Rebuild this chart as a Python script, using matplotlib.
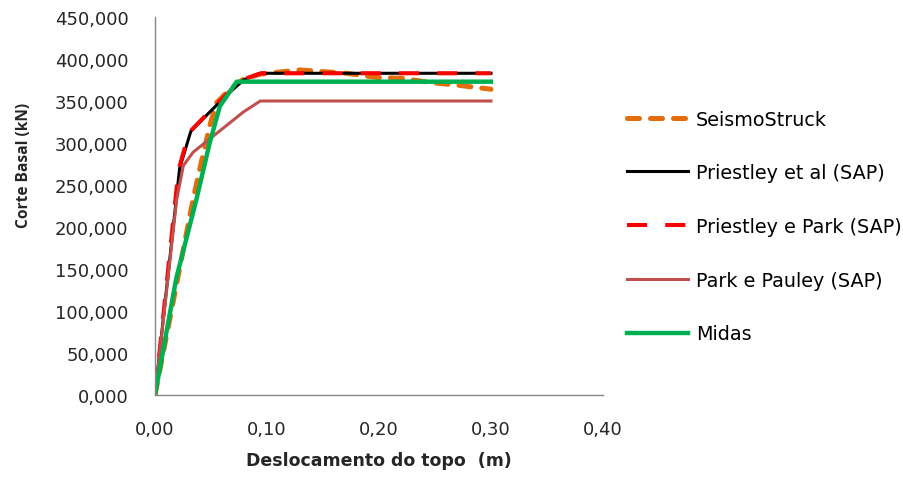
import matplotlib
matplotlib.use("Agg")
import matplotlib.pyplot as plt
from matplotlib.ticker import FuncFormatter, MultipleLocator

plt.rcParams['font.family'] = ['DejaVu Sans']

# Curvas de capacidade (pushover): deslocamento do topo (m) x corte basal
seismo_x = [0.0, 0.014, 0.034, 0.042, 0.049, 0.055, 0.067, 0.079, 0.094, 0.129,
            0.150, 0.171, 0.198, 0.221, 0.246, 0.269, 0.300]
seismo_y = [0, 96, 233, 281, 321, 348, 364, 376, 382, 387,
            385, 383, 378, 377, 372, 369, 364]

priestley_x = [0.0, 0.022, 0.032, 0.049, 0.064, 0.079, 0.094, 0.300]
priestley_y = [0, 270, 314, 337, 357, 375, 383, 383]

priestley_park_x = [0.0, 0.021, 0.028, 0.033, 0.049, 0.064, 0.079, 0.095, 0.300]
priestley_park_y = [0, 268, 301, 316, 338, 358, 376, 383, 383]

park_x = [0.0, 0.0194, 0.0253, 0.034, 0.049, 0.064, 0.079, 0.094, 0.300]
park_y = [0, 233, 273, 289, 305, 321, 337, 350, 350]

midas_x = [0.0, 0.019, 0.037, 0.049, 0.058, 0.073, 0.300]
midas_y = [0, 139, 233, 301, 344, 373, 373]

fig = plt.figure(figsize=(9.04, 4.89), dpi=100)
ax = fig.add_axes([155 / 904, 1 - 396 / 489, 448 / 904, 378 / 489])

ax.plot(seismo_x, seismo_y, color="#E46C0A", linewidth=3.6, dashes=(2.4, 2.2),
        dash_capstyle="round", label="SeismoStruck")
ax.plot(priestley_x, priestley_y, color="#000000", linewidth=2.2,
        label="Priestley et al (SAP)")
ax.plot(priestley_park_x, priestley_park_y, color="#FF0000", linewidth=2.9,
        dashes=(5, 4.5), label="Priestley e Park (SAP)")
ax.plot(park_x, park_y, color="#C0504D", linewidth=2.2,
        label="Park e Pauley (SAP)")
ax.plot(midas_x, midas_y, color="#00B050", linewidth=3.2, label="Midas")

ax.set_xlim(0, 0.4)
ax.set_ylim(0, 450)
ax.xaxis.set_major_locator(MultipleLocator(0.1))
ax.yaxis.set_major_locator(MultipleLocator(50))
ax.xaxis.set_major_formatter(FuncFormatter(lambda v, p: f"{v:.2f}".replace(".", ",")))
ax.yaxis.set_major_formatter(FuncFormatter(lambda v, p: f"{v:.3f}".replace(".", ",")))

for s in ["top", "right"]:
    ax.spines[s].set_visible(False)
for s in ["left", "bottom"]:
    ax.spines[s].set_color("#878787")
    ax.spines[s].set_linewidth(1.0)
ax.tick_params(axis="both", length=0, labelsize=13, colors="#262626")
ax.tick_params(axis="x", pad=18)
ax.tick_params(axis="y", pad=19)

ax.set_xlabel("Deslocamento do topo  (m)", fontsize=12.5, fontweight="bold", color="#262626")
ax.set_ylabel("Corte Basal (kN)", fontsize=11.2, fontweight="bold", color="#262626",
              family=["Open Sans", "DejaVu Sans"])
ax.xaxis.set_label_coords(0.5, -0.147)
ax.yaxis.set_label_coords(-0.275, 0.61)

fig.legend(loc="center left", bbox_to_anchor=(0.6856, 0.535), frameon=False,
           borderaxespad=0, fontsize=13.8, handlelength=3.18, handletextpad=0.4,
           labelspacing=1.81)

fig.savefig("out.png", dpi=100)
